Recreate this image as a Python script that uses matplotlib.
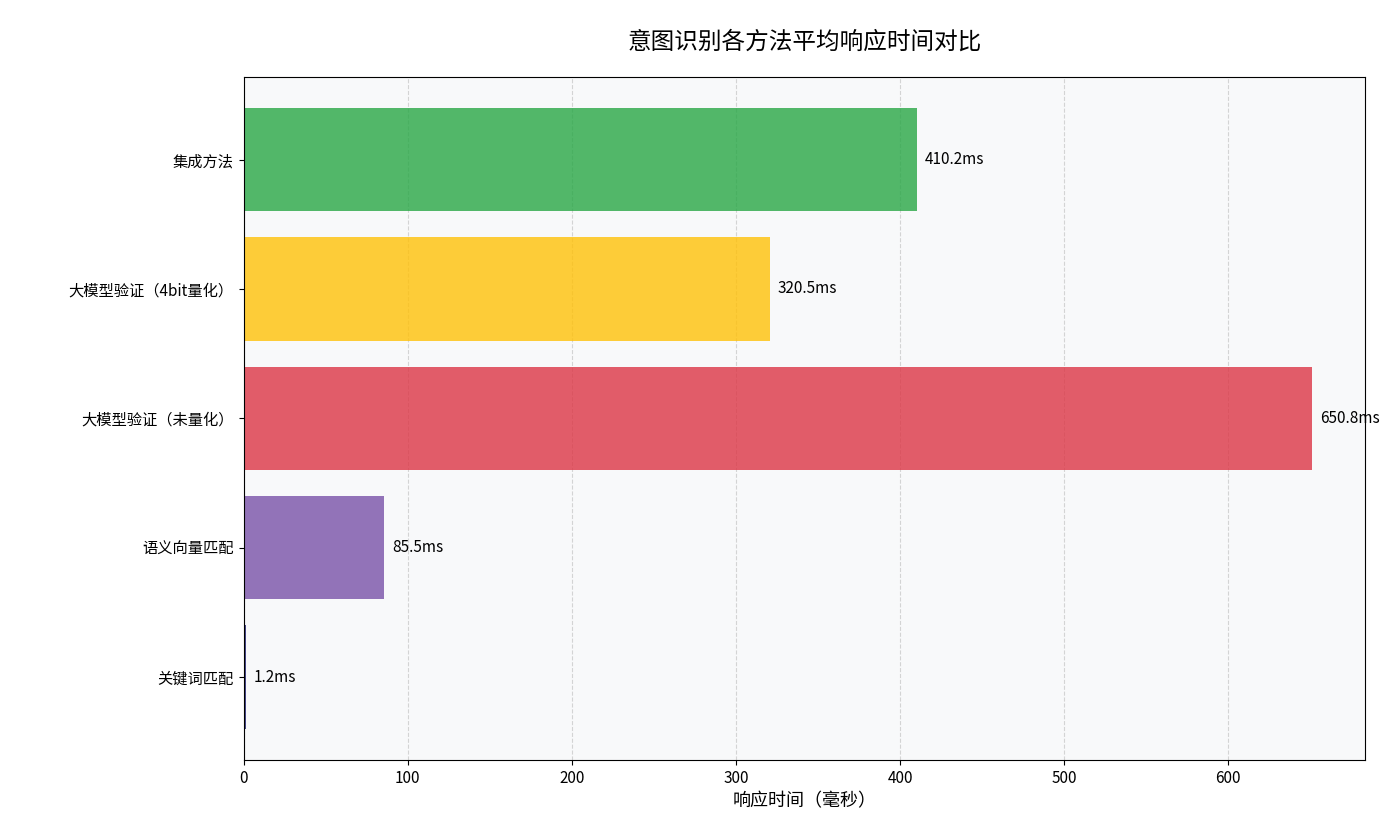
import matplotlib
matplotlib.use('Agg')
import matplotlib.pyplot as plt

plt.rcParams['font.family'] = ['Noto Sans CJK SC', 'DejaVu Sans']

methods = ['关键词匹配', '语义向量匹配', '大模型验证（未量化）', '大模型验证（4bit量化）', '集成方法']
times = [1.2, 85.5, 650.8, 320.5, 410.2]
colors = ['#1a1a6e', '#7952a8', '#dc3545', '#ffc107', '#28a745']

fig = plt.figure(figsize=(14, 8.35), dpi=100)
ax = fig.add_axes([0.174, 0.090, 0.801, 0.818])
ax.set_facecolor('#f8f9fa')
bars = ax.barh(methods, times, color=colors, alpha=0.8, height=0.8, zorder=2)
for b, v in zip(bars, times):
    ax.text(b.get_width() + 5, b.get_y() + b.get_height() / 2, f'{v}ms',
            va='center', ha='left', fontsize=11)
ax.set_xlim(0, max(times) * 1.05)
ax.grid(axis='x', linestyle='--', alpha=0.5, zorder=0)
ax.set_axisbelow(True)
ax.set_xlabel('响应时间（毫秒）', fontsize=13)
ax.set_title('意图识别各方法平均响应时间对比', fontsize=17, pad=20)
ax.tick_params(labelsize=11)
fig.savefig('out.png')
